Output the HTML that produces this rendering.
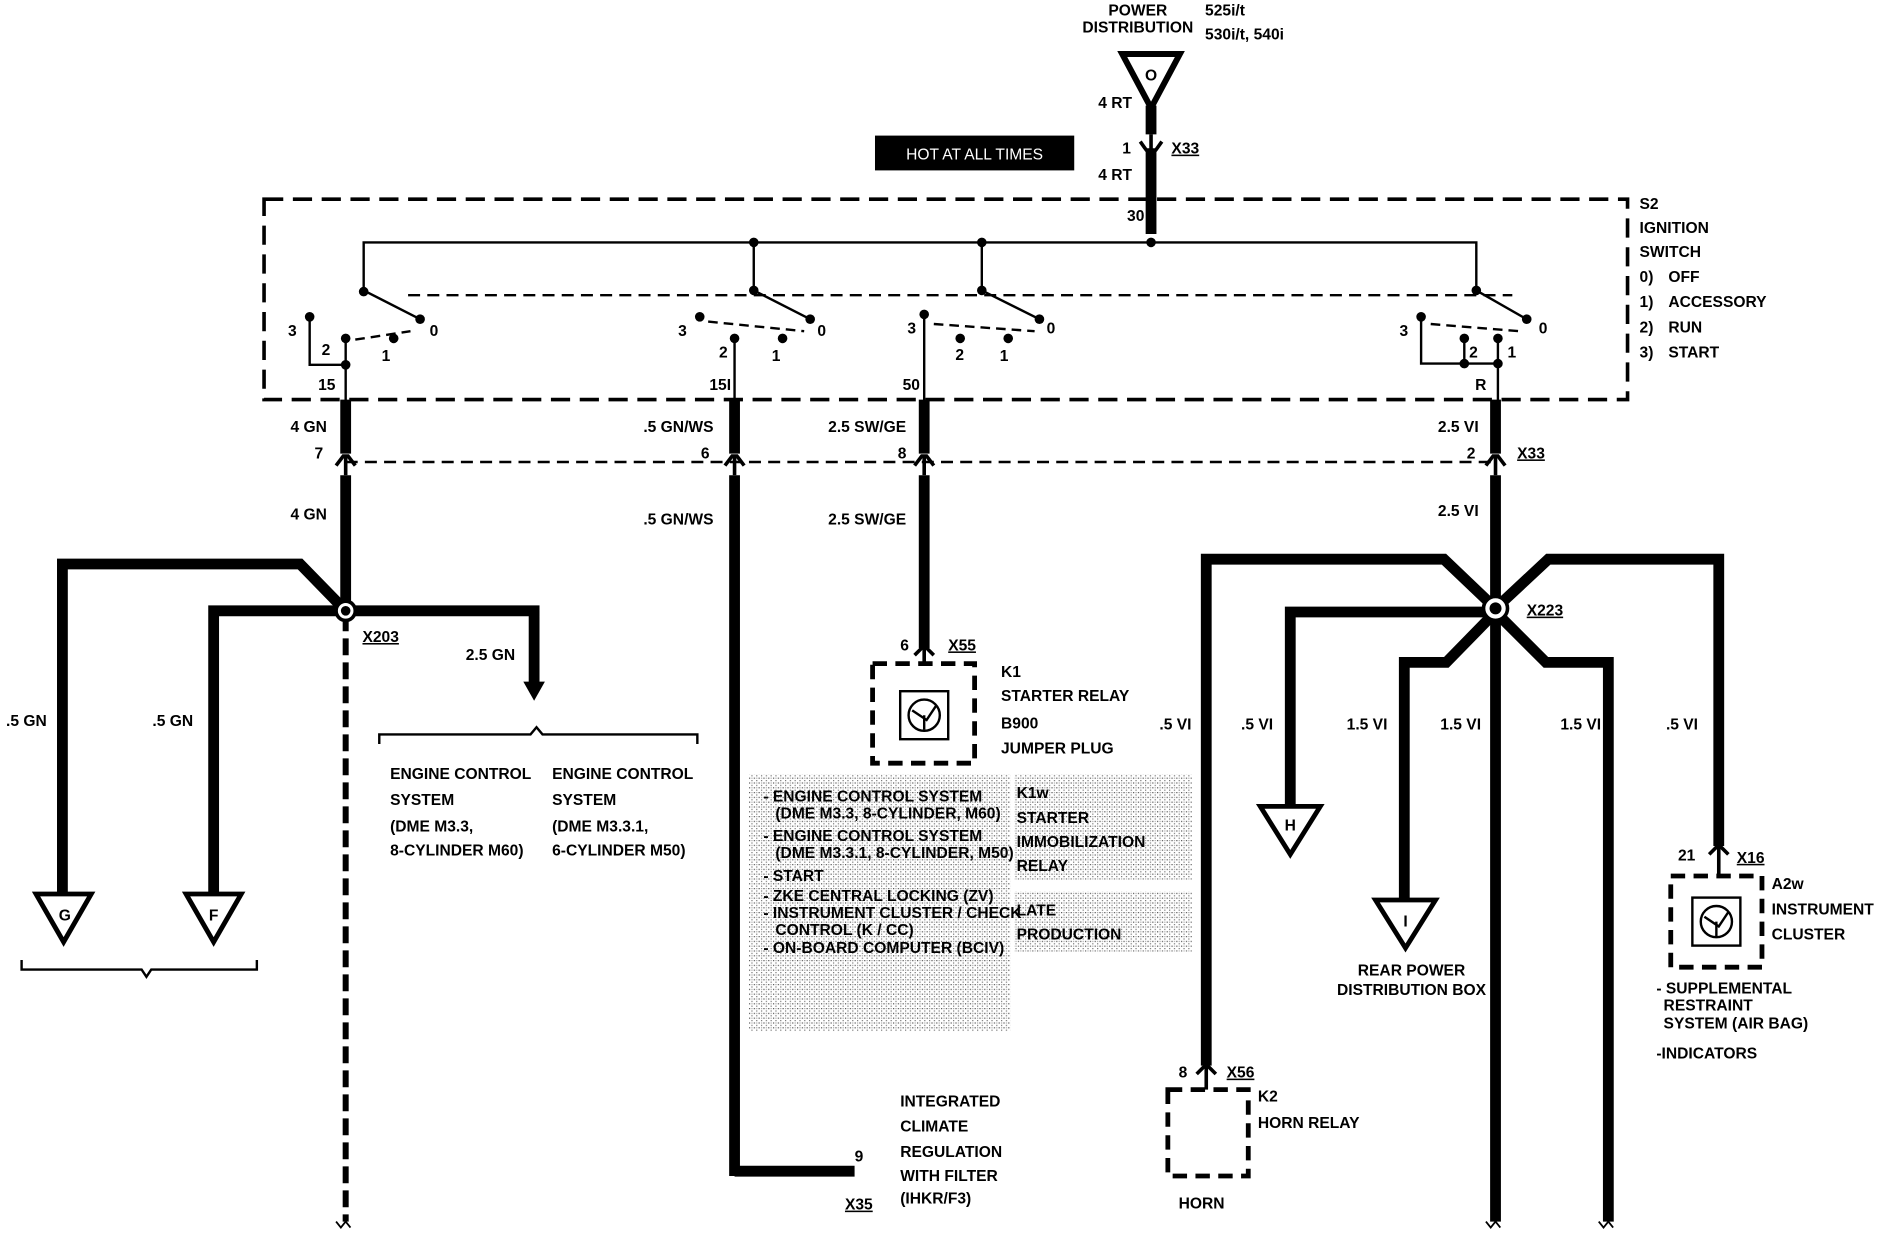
<!DOCTYPE html>
<html><head><meta charset="utf-8"><style>
html,body{margin:0;padding:0;background:#fff}
svg{display:block}
text{font-family:"Liberation Sans",Arial,sans-serif;font-weight:bold;font-size:13px;fill:#000}
</style></head><body>
<svg width="1882" height="1248" viewBox="0 0 1568 1040" preserveAspectRatio="none" xmlns="http://www.w3.org/2000/svg">
<defs>
<pattern id="dots" width="4" height="4" patternUnits="userSpaceOnUse"><rect width="4" height="4" fill="#fff"/><rect width="1" height="1" fill="#555"/><rect x="2" y="2" width="1" height="1" fill="#777"/><rect x="2" y="0" width="1" height="1" fill="#aaa"/></pattern>
</defs>
<rect width="1568" height="1040" fill="#fff"/>
<!-- Power distribution -->
<text x="948" y="13" font-size="12" text-anchor="middle">POWER</text>
<text x="948" y="27" font-size="12" text-anchor="middle">DISTRIBUTION</text>
<text x="1004" y="13" font-size="12">525i/t</text>
<text x="1004" y="33" font-size="12">530i/t, 540i</text>
<polygon points="935,45 983,45 959,90" fill="none" stroke="#000" stroke-width="5"/>
<text x="959" y="67" font-size="16" text-anchor="middle">O</text>
<line x1="959" y1="88" x2="959" y2="112" stroke="#000" stroke-width="9"/>
<line x1="959" y1="112" x2="959" y2="125" stroke="#000" stroke-width="3"/>
<polyline points="950,118 955,125 963,125 968,118" fill="none" stroke="#000" stroke-width="3"/>
<line x1="959" y1="125" x2="959" y2="195" stroke="#000" stroke-width="9"/>
<text x="915" y="90">4 RT</text>
<text x="935" y="128">1</text>
<text x="976" y="128" text-decoration="underline">X33</text>
<text x="915" y="150">4 RT</text>
<text x="939" y="184">30</text>
<rect x="729" y="113" width="166" height="29" fill="#000"/>
<text x="812" y="133" font-size="15" style="fill:#fff;font-weight:normal" text-anchor="middle">HOT AT ALL TIMES</text>
<!-- ignition switch box -->
<rect x="220" y="166" width="1136" height="167" fill="none" stroke="#000" stroke-width="3" stroke-dasharray="16,8"/>
<text x="1366" y="174">S2</text>
<text x="1366" y="194">IGNITION</text>
<text x="1366" y="214">SWITCH</text>
<text x="1366" y="235">0)</text><text x="1390" y="235">OFF</text>
<text x="1366" y="256">1)</text><text x="1390" y="256">ACCESSORY</text>
<text x="1366" y="277">2)</text><text x="1390" y="277">RUN</text>
<text x="1366" y="298">3)</text><text x="1390" y="298">START</text>
<!-- bus -->
<polyline points="303,242 303,202 1230,202 1230,242" fill="none" stroke="#000" stroke-width="2"/>
<line x1="628" y1="202" x2="628" y2="242" stroke="#000" stroke-width="2"/>
<line x1="818" y1="202" x2="818" y2="242" stroke="#000" stroke-width="2"/>
<g fill="#000"><circle cx="959" cy="202" r="4"/><circle cx="628" cy="202" r="4"/><circle cx="818" cy="202" r="4"/></g>
<line x1="340" y1="246" x2="1260" y2="246" stroke="#000" stroke-width="2" stroke-dasharray="10,6"/>
<g stroke="#000" stroke-width="2" fill="none">
<line x1="303" y1="242" x2="350" y2="266"/>
<polyline points="258,264 258,304 288,304"/>
<line x1="288" y1="282" x2="288" y2="335"/>
<line x1="296" y1="283" x2="342" y2="276" stroke-dasharray="8,5"/>
<line x1="628" y1="242" x2="675" y2="266"/>
<line x1="612" y1="282" x2="612" y2="335"/>
<line x1="590" y1="268" x2="670" y2="276" stroke-dasharray="8,5"/>
<line x1="818" y1="242" x2="866" y2="266"/>
<line x1="770" y1="262" x2="770" y2="335"/>
<line x1="778" y1="270" x2="862" y2="276" stroke-dasharray="8,5"/>
<line x1="1230" y1="242" x2="1272" y2="266"/>
<polyline points="1184,264 1184,303 1248,303"/>
<line x1="1220" y1="282" x2="1220" y2="303"/>
<line x1="1248" y1="282" x2="1248" y2="335"/>
<line x1="1192" y1="270" x2="1266" y2="276" stroke-dasharray="8,5"/>
</g>
<g fill="#000">
<circle cx="303" cy="243" r="4"/><circle cx="350" cy="266" r="4"/><circle cx="258" cy="264" r="4"/><circle cx="288" cy="282" r="4"/><circle cx="328" cy="282" r="4"/><circle cx="288" cy="304" r="4"/>
<circle cx="628" cy="242" r="4"/><circle cx="675" cy="266" r="4"/><circle cx="583" cy="264" r="4"/><circle cx="612" cy="282" r="4"/><circle cx="652" cy="282" r="4"/>
<circle cx="818" cy="242" r="4"/><circle cx="866" cy="266" r="4"/><circle cx="770" cy="262" r="4"/><circle cx="800" cy="282" r="4"/><circle cx="840" cy="282" r="4"/>
<circle cx="1230" cy="242" r="4"/><circle cx="1272" cy="266" r="4"/><circle cx="1184" cy="264" r="4"/><circle cx="1220" cy="282" r="4"/><circle cx="1248" cy="282" r="4"/><circle cx="1220" cy="303" r="4"/><circle cx="1248" cy="303" r="4"/>
</g>
<text x="240" y="280">3</text><text x="268" y="296">2</text><text x="318" y="301">1</text><text x="358" y="280">0</text><text x="265" y="325">15</text>
<text x="565" y="280">3</text><text x="599" y="298">2</text><text x="643" y="301">1</text><text x="681" y="280">0</text><text x="591" y="325">15I</text>
<text x="756" y="278">3</text><text x="796" y="300">2</text><text x="833" y="301">1</text><text x="872" y="278">0</text><text x="752" y="325">50</text>
<text x="1166" y="280">3</text><text x="1224" y="298">2</text><text x="1256" y="298">1</text><text x="1282" y="278">0</text><text x="1229" y="325">R</text>
<!-- X33 connector row -->
<line x1="288" y1="385" x2="1246" y2="385" stroke="#000" stroke-width="2" stroke-dasharray="10,6"/>
<g stroke="#000" stroke-width="9">
<line x1="288" y1="333" x2="288" y2="378"/><line x1="612" y1="333" x2="612" y2="378"/><line x1="770" y1="333" x2="770" y2="378"/><line x1="1246" y1="333" x2="1246" y2="378"/>
<line x1="288" y1="396" x2="288" y2="510"/><line x1="612" y1="396" x2="612" y2="980"/><line x1="770" y1="396" x2="770" y2="540"/><line x1="1246" y1="396" x2="1246" y2="1018"/>
</g>
<g stroke="#000" stroke-width="3" fill="none">
<polyline points="280,388 286,380 290,380 296,388"/><line x1="288" y1="380" x2="288" y2="396"/>
<polyline points="604,388 610,380 614,380 620,388"/><line x1="612" y1="380" x2="612" y2="396"/>
<polyline points="762,388 768,380 772,380 778,388"/><line x1="770" y1="380" x2="770" y2="396"/>
<polyline points="1238,388 1244,380 1248,380 1254,388"/><line x1="1246" y1="380" x2="1246" y2="396"/>
</g>
<text x="242" y="360">4 GN</text><text x="262" y="382">7</text>
<text x="536" y="360">.5 GN/WS</text><text x="584" y="382">6</text>
<text x="690" y="360">2.5 SW/GE</text><text x="748" y="382">8</text>
<text x="1198" y="360">2.5 VI</text><text x="1222" y="382">2</text><text x="1264" y="382" text-decoration="underline">X33</text>
<text x="242" y="433">4 GN</text>
<text x="536" y="437">.5 GN/WS</text>
<text x="690" y="437">2.5 SW/GE</text>
<text x="1198" y="430">2.5 VI</text>
<!-- left splice X203 -->
<g stroke="#000" stroke-width="9" fill="none">
<polyline points="52,745 52,470 250,470 288,509"/>
<polyline points="178,745 178,509 288,509"/>
<polyline points="288,509 445,509 445,570"/>
</g>
<line x1="288" y1="512" x2="288" y2="1018" stroke="#000" stroke-width="5" stroke-dasharray="14,6"/>
<circle cx="288" cy="509" r="8" fill="#fff" stroke="#000" stroke-width="3"/><circle cx="288" cy="509" r="4" fill="#000"/>
<polygon points="436,568 454,568 445,584" fill="#000"/>
<text x="302" y="535" text-decoration="underline">X203</text>
<text x="388" y="550">2.5 GN</text>
<text x="5" y="605">.5 GN</text><text x="127" y="605">.5 GN</text>
<polygon points="30,745 76,745 53,785" fill="none" stroke="#000" stroke-width="4"/><text x="54" y="767" font-size="15" text-anchor="middle">G</text>
<polygon points="155,745 201,745 178,785" fill="none" stroke="#000" stroke-width="4"/><text x="178" y="767" font-size="15" text-anchor="middle">F</text>
<path d="M18,800 L18,808 L118,808 L122,814 L126,808 L214,808 L214,800" fill="none" stroke="#000" stroke-width="2"/>
<path d="M316,620 L316,612 L442,612 L447,606 L452,612 L581,612 L581,620" fill="none" stroke="#000" stroke-width="2"/>
<text x="325" y="649">ENGINE CONTROL</text><text x="325" y="671">SYSTEM</text><text x="325" y="693">(DME M3.3,</text><text x="325" y="713">8-CYLINDER M60)</text>
<text x="460" y="649">ENGINE CONTROL</text><text x="460" y="671">SYSTEM</text><text x="460" y="693">(DME M3.3.1,</text><text x="460" y="713">6-CYLINDER M50)</text>
<path d="M280,1018 l4,5 l4,-5 l4,5" fill="none" stroke="#000" stroke-width="1.5"/>
<!-- 15I to X35 -->
<polyline points="612,976 712,976" stroke="#000" stroke-width="9" fill="none"/>
<text x="712" y="968">9</text><text x="704" y="1008" text-decoration="underline">X35</text>
<text x="750" y="922">INTEGRATED</text><text x="750" y="943">CLIMATE</text><text x="750" y="964">REGULATION</text><text x="750" y="984">WITH FILTER</text><text x="750" y="1003">(IHKR/F3)</text>
<!-- K1 -->
<g stroke="#000" stroke-width="3" fill="none"><polyline points="762,546 768,540 772,540 778,546"/><line x1="770" y1="540" x2="770" y2="553"/></g>
<rect x="727" y="553" width="85" height="83" fill="none" stroke="#000" stroke-width="4" stroke-dasharray="12,7"/>
<rect x="750" y="576" width="40" height="40" fill="none" stroke="#000" stroke-width="2"/>
<circle cx="770" cy="596" r="13" fill="none" stroke="#000" stroke-width="2"/>
<path d="M760,592 L772,600 L780,588 M770,596 L770,608" stroke="#000" stroke-width="2" fill="none"/>
<text x="750" y="542">6</text><text x="790" y="542" text-decoration="underline">X55</text>
<text x="834" y="564">K1</text>
<text x="834" y="584">STARTER RELAY</text><text x="834" y="607">B900</text><text x="834" y="628">JUMPER PLUG</text>
<!-- shaded notes -->
<rect x="624" y="645" width="218" height="215" fill="url(#dots)"/>
<rect x="845" y="645" width="148" height="88" fill="url(#dots)"/>
<rect x="845" y="743" width="148" height="50" fill="url(#dots)"/>
<g font-size="12">
<text x="636" y="668">- ENGINE CONTROL SYSTEM</text><text x="646" y="682">(DME M3.3, 8-CYLINDER, M60)</text>
<text x="636" y="701">- ENGINE CONTROL SYSTEM</text><text x="646" y="715">(DME M3.3.1, 8-CYLINDER, M50)</text>
<text x="636" y="734">- START</text>
<text x="636" y="751">- ZKE CENTRAL LOCKING  (ZV)</text>
<text x="636" y="765">- INSTRUMENT CLUSTER / CHECK</text><text x="646" y="779">CONTROL (K / CC)</text>
<text x="636" y="794">- ON-BOARD COMPUTER (BCIV)</text>
<text x="847" y="665" font-size="13">K1w</text><text x="847" y="686" font-size="13">STARTER</text><text x="847" y="706" font-size="13">IMMOBILIZATION</text><text x="847" y="726" font-size="13">RELAY</text>
<text x="847" y="763" font-size="13">LATE</text><text x="847" y="783" font-size="13">PRODUCTION</text>
</g>
<!-- X223 splice -->
<g stroke="#000" stroke-width="9" fill="none">
<polyline points="1005,888 1005,466 1203,466 1246,507"/>
<polyline points="1432,705 1432,466 1290,466 1246,507"/>
<polyline points="1075,670 1075,510 1246,510"/>
<polyline points="1170,750 1170,552 1205,552 1246,510"/>
<polyline points="1340,1018 1340,552 1288,552 1246,510"/>
</g>
<circle cx="1246" cy="507" r="10" fill="#fff" stroke="#000" stroke-width="3"/><circle cx="1246" cy="507" r="5" fill="#000"/>
<text x="1272" y="513" text-decoration="underline">X223</text>
<text x="966" y="608">.5 VI</text><text x="1034" y="608">.5 VI</text><text x="1122" y="608">1.5 VI</text><text x="1200" y="608">1.5 VI</text><text x="1300" y="608">1.5 VI</text><text x="1388" y="608">.5 VI</text>
<polygon points="1050,672 1100,672 1075,712" fill="none" stroke="#000" stroke-width="4"/><text x="1075" y="692" font-size="15" text-anchor="middle">H</text>
<polygon points="1146,750 1196,750 1171,790" fill="none" stroke="#000" stroke-width="4"/><text x="1171" y="772" font-size="15" text-anchor="middle">I</text>
<text x="1176" y="813" text-anchor="middle" font-size="12">REAR POWER</text><text x="1176" y="829" text-anchor="middle" font-size="12">DISTRIBUTION BOX</text>
<path d="M1238,1018 l4,5 l4,-5 l4,5 M1332,1018 l4,5 l4,-5 l4,5" fill="none" stroke="#000" stroke-width="1.5"/>
<!-- K2 -->
<g stroke="#000" stroke-width="3" fill="none"><polyline points="997,895 1003,889 1007,889 1013,895"/><line x1="1005" y1="889" x2="1005" y2="908"/></g>
<rect x="973" y="908" width="67" height="72" fill="none" stroke="#000" stroke-width="4" stroke-dasharray="12,7"/>
<text x="982" y="898">8</text><text x="1022" y="898" text-decoration="underline">X56</text>
<text x="1048" y="918">K2</text><text x="1048" y="940">HORN RELAY</text>
<text x="982" y="1007" font-size="12">HORN</text>
<!-- A2w -->
<g stroke="#000" stroke-width="3" fill="none"><polyline points="1424,712 1430,706 1434,706 1440,712"/><line x1="1432" y1="706" x2="1432" y2="730"/></g>
<rect x="1392" y="730" width="76" height="76" fill="none" stroke="#000" stroke-width="4" stroke-dasharray="12,7"/>
<rect x="1410" y="748" width="40" height="40" fill="none" stroke="#000" stroke-width="2"/>
<circle cx="1430" cy="768" r="13" fill="none" stroke="#000" stroke-width="2"/>
<path d="M1420,764 L1432,772 L1440,760 M1430,768 L1430,780" stroke="#000" stroke-width="2" fill="none"/>
<text x="1398" y="717">21</text><text x="1447" y="719" text-decoration="underline">X16</text>
<text x="1476" y="741">A2w</text><text x="1476" y="762">INSTRUMENT</text><text x="1476" y="783">CLUSTER</text>
<g font-size="12"><text x="1380" y="828">- SUPPLEMENTAL</text><text x="1386" y="842">RESTRAINT</text><text x="1386" y="857">SYSTEM (AIR BAG)</text><text x="1380" y="882">-INDICATORS</text></g>
</svg>
</body></html>
